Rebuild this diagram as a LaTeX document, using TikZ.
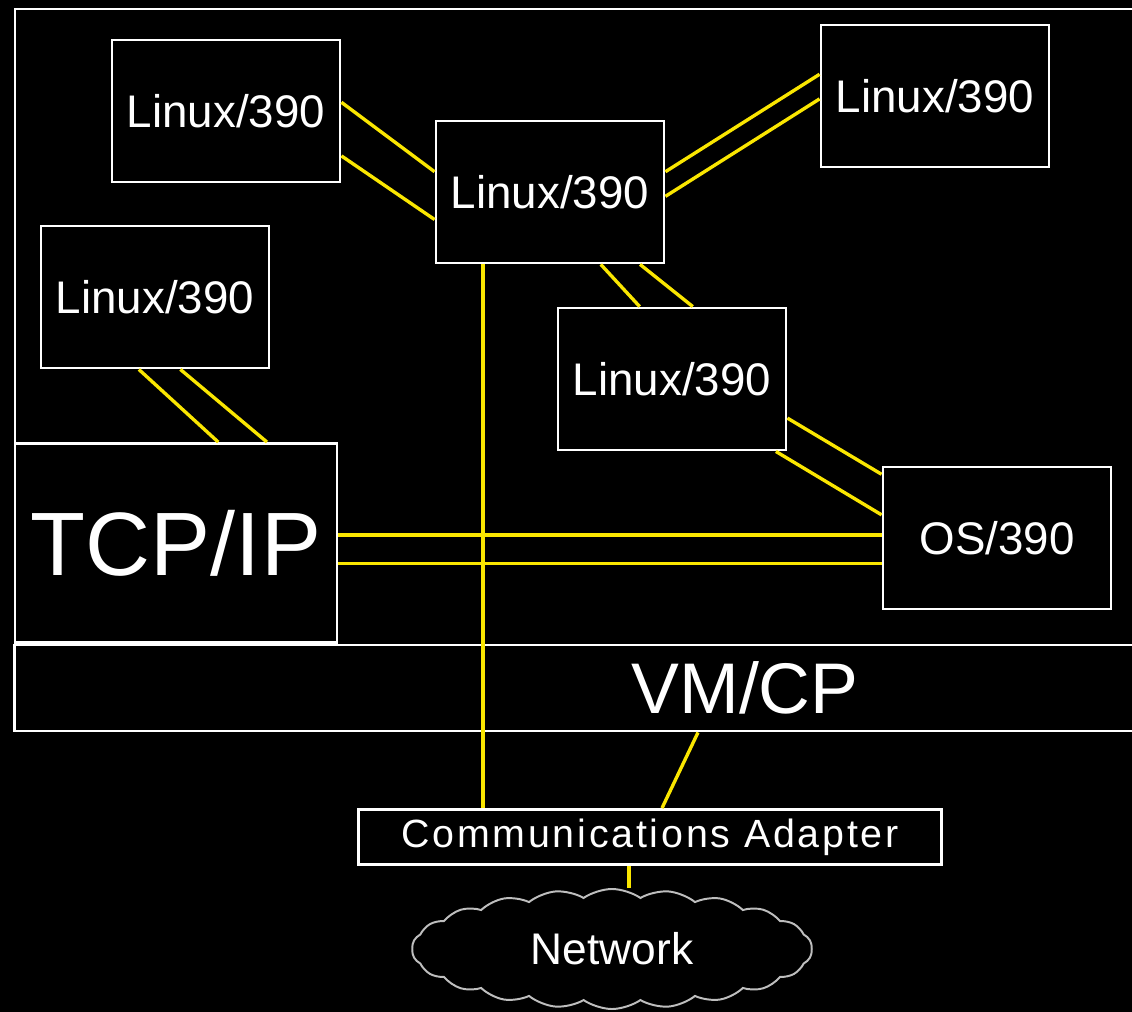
\documentclass[tikz,border=0pt]{standalone}
\usepackage{fontspec}
\setmainfont{Liberation Sans}
\newfontfamily\adapterfont[LetterSpace=7]{Liberation Sans}
\usetikzlibrary{calc,shapes.symbols}

\definecolor{linkyellow}{RGB}{250,230,0}
\definecolor{cloudline}{RGB}{190,190,190}

\tikzset{
  box/.style={draw=white, line width=2pt, fill=black, text=white, inner sep=0pt},
  guest/.style={box, minimum width=5.7cm, minimum height=3.55cm, font=\fontsize{32.5}{36}\selectfont},
  link/.style={draw=linkyellow, line width=2.4pt},
}

\begin{document}
\begin{tikzpicture}[x=0.025cm, y=-0.025cm]
  \fill[black] (0,0) rectangle (1132,1012);
  \useasboundingbox (0,0) rectangle (1132,1012);
  \clip (0,0) rectangle (1132,1012);

  % host frame
  \draw[white, line width=2pt] (15,9) rectangle (1160,731);

  % guests
  \node[guest] (l1) at (226,111) {Linux/390};
  \node[guest] (l2) at (935,96) {Linux/390};
  \node[guest] (l3) at (550,192) {Linux/390};
  \node[guest] (l4) at (155,297) {Linux/390};
  \node[guest] (l5) at (672,379) {Linux/390};
  \node[guest] (os) at (997,538) {OS/390};
  \node[box, minimum width=8.05cm, minimum height=4.975cm, font=\fontsize{64}{70}\selectfont] (tcp) at (176,543) {TCP/IP};

  % VM/CP layer
  \node[draw=white, line width=2pt, text=white, minimum width=36.5cm, minimum height=2.15cm, font=\fontsize{51}{56}\selectfont] (vmcp) at (745,688) {VM/CP};

  % adapter and network
  \node[box, minimum width=14.575cm, minimum height=1.375cm, font=\adapterfont\fontsize{28}{32}\selectfont] (comm) at (650,837) {Communications Adapter};
  \node[cloud, cloud puffs=22, cloud puff arc=70, aspect=3.3, draw=cloudline, line width=1.4pt, fill=black, text=white, minimum width=10cm, minimum height=3cm, font=\fontsize{31.5}{36}\selectfont] (net) at (612,949) {Network};

  % links
  \draw[link] ($(l1.north east)!.44!(l1.south east)$) -- ($(l3.north west)!.36!(l3.south west)$);
  \draw[link] ($(l1.north east)!.81!(l1.south east)$) -- ($(l3.north west)!.69!(l3.south west)$);
  \draw[link] ($(l3.north east)!.36!(l3.south east)$) -- ($(l2.north west)!.35!(l2.south west)$);
  \draw[link] ($(l3.north east)!.53!(l3.south east)$) -- ($(l2.north west)!.52!(l2.south west)$);
  \draw[link] ($(l3.south west)!.72!(l3.south east)$) -- ($(l5.north west)!.36!(l5.north east)$);
  \draw[link] ($(l3.south west)!.89!(l3.south east)$) -- ($(l5.north west)!.59!(l5.north east)$);
  \draw[link] ($(l4.south west)!.43!(l4.south east)$) -- ($(tcp.north west)!.63!(tcp.north east)$);
  \draw[link] ($(l4.south west)!.61!(l4.south east)$) -- ($(tcp.north west)!.78!(tcp.north east)$);
  \draw[link] ($(l5.north east)!.77!(l5.south east)$) -- ($(os.north west)!.06!(os.south west)$);
  \draw[link] ($(l5.south west)!.95!(l5.south east)$) -- ($(os.north west)!.34!(os.south west)$);
  \draw[link] ($(tcp.north east)!.46!(tcp.south east)$) coordinate (t1) -- (os.west |- t1);
  \draw[link] ($(tcp.north east)!.60!(tcp.south east)$) coordinate (t2) -- (os.west |- t2);
  \draw[link] ($(l3.south west)!.21!(l3.south east)$) coordinate (v1) -- (v1 |- comm.north);
  \draw[link] ($(vmcp.south)+(-47,0)$) -- ($(comm.north)+(12,0)$);
  \draw[link] ($(comm.south)+(-21,0)$) coordinate (n1) -- (n1 |- net.north);
\end{tikzpicture}
\end{document}
